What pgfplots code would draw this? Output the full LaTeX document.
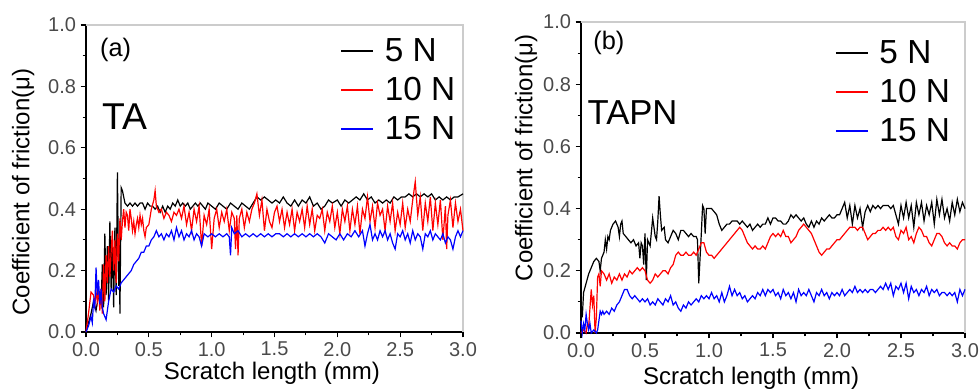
\documentclass[border=0pt]{standalone}
\usepackage{pgfplots}
\pgfplotsset{compat=1.18}
\usepackage{pgfplotstable}
\usepackage{fontspec}
\setmainfont{Liberation Sans}
\definecolor{tickgray}{HTML}{4A4A4A}
\definecolor{framegray}{HTML}{CCCCCC}

\pgfplotstableread{
x y
0.00 0.00
0.02 0.03
0.04 0.06
0.06 0.10
0.08 0.07
0.10 0.12
0.12 0.09
0.13 0.22
0.14 0.08
0.15 0.32
0.16 0.12
0.17 0.28
0.18 0.10
0.19 0.36
0.20 0.14
0.21 0.30
0.22 0.08
0.23 0.34
0.24 0.12
0.25 0.52
0.26 0.15
0.265 0.30
0.27 0.06
0.28 0.47
0.29 0.46
0.30 0.44
0.31 0.42
0.33 0.41
0.35 0.42
0.37 0.41
0.39 0.42
0.41 0.41
0.43 0.42
0.45 0.42
0.47 0.40
0.49 0.42
0.51 0.41
0.53 0.41
0.55 0.40
0.57 0.41
0.59 0.39
0.61 0.41
0.63 0.39
0.65 0.41
0.67 0.40
0.69 0.42
0.71 0.41
0.73 0.43
0.75 0.41
0.77 0.42
0.79 0.41
0.81 0.42
0.83 0.40
0.85 0.41
0.87 0.42
0.89 0.41
0.91 0.42
0.93 0.41
0.95 0.40
0.97 0.42
1.00 0.41
1.03 0.40
1.06 0.42
1.09 0.41
1.12 0.40
1.15 0.42
1.18 0.41
1.21 0.40
1.24 0.42
1.27 0.41
1.30 0.40
1.33 0.42
1.36 0.44
1.39 0.43
1.42 0.44
1.45 0.43
1.48 0.42
1.51 0.43
1.54 0.42
1.57 0.44
1.60 0.42
1.63 0.41
1.66 0.43
1.69 0.41
1.72 0.43
1.75 0.42
1.78 0.44
1.81 0.41
1.84 0.42
1.87 0.40
1.90 0.41
1.93 0.43
1.96 0.42
2.00 0.43
2.03 0.41
2.06 0.43
2.09 0.42
2.12 0.43
2.15 0.44
2.18 0.43
2.21 0.45
2.24 0.43
2.27 0.44
2.30 0.42
2.33 0.43
2.36 0.42
2.39 0.43
2.42 0.42
2.45 0.44
2.48 0.43
2.51 0.44
2.54 0.44
2.57 0.45
2.60 0.44
2.63 0.45
2.66 0.44
2.69 0.45
2.72 0.44
2.75 0.45
2.78 0.43
2.81 0.44
2.84 0.43
2.87 0.44
2.90 0.43
2.93 0.44
2.96 0.44
3.00 0.45
}\aFive

\pgfplotstableread{
x y
0.00 0.00
0.02 0.06
0.04 0.13
0.06 0.12
0.07 0.09
0.08 0.13
0.09 0.10
0.10 0.14
0.11 0.07
0.12 0.14
0.13 0.06
0.14 0.22
0.15 0.10
0.16 0.25
0.17 0.16
0.18 0.28
0.19 0.18
0.20 0.26
0.21 0.33
0.22 0.20
0.23 0.30
0.24 0.16
0.25 0.32
0.26 0.23
0.27 0.37
0.28 0.30
0.29 0.36
0.30 0.40
0.31 0.34
0.32 0.39
0.33 0.38
0.34 0.33
0.35 0.40
0.36 0.37
0.37 0.33
0.38 0.36
0.39 0.32
0.40 0.35
0.41 0.37
0.42 0.34
0.43 0.38
0.44 0.35
0.45 0.37
0.46 0.33
0.47 0.31
0.48 0.34
0.50 0.35
0.52 0.40
0.54 0.43
0.55 0.46
0.56 0.41
0.58 0.39
0.60 0.40
0.62 0.37
0.64 0.39
0.66 0.38
0.68 0.36
0.70 0.39
0.72 0.38
0.74 0.40
0.76 0.37
0.78 0.41
0.80 0.35
0.82 0.39
0.84 0.33
0.86 0.40
0.88 0.36
0.90 0.41
0.92 0.28
0.94 0.38
0.96 0.35
0.98 0.40
1.00 0.27
1.02 0.37
1.04 0.40
1.06 0.34
1.08 0.39
1.10 0.36
1.12 0.40
1.14 0.33
1.16 0.39
1.18 0.37
1.19 0.27
1.20 0.38
1.21 0.25
1.22 0.37
1.24 0.40
1.26 0.34
1.28 0.39
1.30 0.36
1.32 0.40
1.34 0.42
1.36 0.45
1.38 0.38
1.40 0.43
1.42 0.33
1.44 0.40
1.46 0.36
1.48 0.34
1.50 0.39
1.52 0.41
1.54 0.36
1.56 0.40
1.58 0.34
1.60 0.39
1.62 0.35
1.64 0.40
1.66 0.33
1.68 0.39
1.70 0.36
1.72 0.40
1.74 0.34
1.76 0.41
1.78 0.35
1.80 0.40
1.82 0.33
1.84 0.38
1.86 0.37
1.88 0.40
1.90 0.33
1.92 0.39
1.94 0.36
1.96 0.41
1.98 0.34
2.00 0.39
2.02 0.32
2.04 0.40
2.06 0.36
2.08 0.41
2.10 0.33
2.12 0.40
2.14 0.35
2.16 0.41
2.18 0.32
2.20 0.40
2.22 0.37
2.24 0.44
2.26 0.36
2.28 0.41
2.30 0.34
2.32 0.42
2.34 0.38
2.36 0.40
2.38 0.33
2.40 0.41
2.42 0.36
2.44 0.42
2.46 0.33
2.48 0.39
2.50 0.35
2.52 0.42
2.54 0.34
2.56 0.40
2.58 0.36
2.60 0.43
2.62 0.49
2.64 0.38
2.66 0.44
2.68 0.33
2.70 0.42
2.72 0.36
2.74 0.44
2.76 0.33
2.78 0.42
2.80 0.35
2.82 0.43
2.84 0.30
2.86 0.41
2.87 0.27
2.88 0.38
2.90 0.43
2.92 0.34
2.94 0.42
2.96 0.36
2.98 0.40
3.00 0.33
}\aTen

\pgfplotstableread{
x y
0.00 0.00
0.02 0.02
0.04 0.05
0.05 0.03
0.06 0.10
0.07 0.08
0.08 0.21
0.09 0.12
0.10 0.17
0.11 0.09
0.12 0.14
0.13 0.08
0.14 0.06
0.15 0.05
0.16 0.04
0.17 0.07
0.18 0.10
0.20 0.14
0.22 0.13
0.24 0.15
0.26 0.14
0.28 0.16
0.30 0.17
0.32 0.18
0.34 0.19
0.36 0.20
0.38 0.22
0.40 0.23
0.42 0.24
0.44 0.26
0.46 0.26
0.48 0.28
0.50 0.28
0.52 0.30
0.54 0.31
0.56 0.33
0.58 0.31
0.60 0.32
0.62 0.30
0.64 0.32
0.66 0.31
0.68 0.33
0.70 0.30
0.72 0.34
0.74 0.31
0.76 0.33
0.78 0.30
0.80 0.32
0.82 0.31
0.84 0.33
0.86 0.30
0.88 0.32
0.90 0.31
0.92 0.28
0.94 0.32
0.97 0.31
1.00 0.32
1.03 0.31
1.06 0.32
1.09 0.31
1.12 0.32
1.14 0.31
1.15 0.25
1.16 0.34
1.18 0.32
1.21 0.33
1.24 0.31
1.27 0.32
1.30 0.31
1.33 0.32
1.36 0.31
1.39 0.32
1.42 0.31
1.45 0.32
1.48 0.31
1.51 0.32
1.54 0.32
1.57 0.31
1.60 0.32
1.63 0.31
1.66 0.32
1.69 0.31
1.72 0.32
1.75 0.31
1.78 0.32
1.81 0.31
1.84 0.32
1.87 0.31
1.90 0.29
1.93 0.32
1.96 0.31
1.99 0.30
2.02 0.32
2.05 0.30
2.08 0.32
2.11 0.31
2.14 0.33
2.17 0.31
2.20 0.33
2.22 0.28
2.24 0.32
2.26 0.35
2.28 0.30
2.30 0.32
2.32 0.30
2.34 0.33
2.36 0.31
2.38 0.33
2.40 0.30
2.42 0.32
2.44 0.29
2.46 0.27
2.48 0.32
2.50 0.31
2.52 0.33
2.54 0.30
2.56 0.32
2.58 0.29
2.60 0.33
2.62 0.30
2.64 0.32
2.66 0.31
2.68 0.27
2.70 0.32
2.72 0.31
2.74 0.33
2.76 0.30
2.78 0.32
2.80 0.31
2.82 0.30
2.84 0.32
2.86 0.29
2.88 0.31
2.90 0.30
2.92 0.27
2.94 0.31
2.96 0.33
2.98 0.31
3.00 0.33
}\aFifteen

\pgfplotstableread{
x y
0.00 0.10
0.01 0.05
0.02 0.13
0.04 0.16
0.06 0.19
0.08 0.21
0.10 0.23
0.12 0.24
0.14 0.23
0.15 0.20
0.16 0.24
0.18 0.26
0.19 0.30
0.20 0.27
0.21 0.31
0.22 0.30
0.23 0.33
0.25 0.35
0.27 0.36
0.29 0.34
0.30 0.31
0.31 0.35
0.32 0.36
0.33 0.32
0.35 0.31
0.37 0.30
0.39 0.29
0.41 0.30
0.43 0.28
0.45 0.29
0.46 0.24
0.47 0.29
0.48 0.28
0.49 0.22
0.50 0.32
0.51 0.17
0.52 0.30
0.54 0.28
0.56 0.37
0.58 0.31
0.59 0.30
0.60 0.36
0.61 0.44
0.62 0.38
0.63 0.33
0.65 0.34
0.66 0.30
0.68 0.29
0.70 0.31
0.72 0.33
0.74 0.32
0.76 0.30
0.78 0.33
0.80 0.33
0.82 0.32
0.84 0.31
0.86 0.32
0.88 0.31
0.90 0.31
0.91 0.30
0.92 0.16
0.94 0.32
0.95 0.41
0.96 0.40
0.97 0.32
0.98 0.40
1.00 0.40
1.02 0.40
1.04 0.39
1.06 0.38
1.08 0.35
1.10 0.33
1.12 0.34
1.14 0.35
1.16 0.35
1.18 0.36
1.20 0.36
1.22 0.36
1.24 0.35
1.26 0.36
1.28 0.35
1.30 0.34
1.32 0.35
1.34 0.33
1.36 0.34
1.38 0.35
1.40 0.34
1.42 0.35
1.44 0.35
1.46 0.37
1.48 0.35
1.50 0.37
1.52 0.37
1.54 0.36
1.56 0.36
1.58 0.35
1.60 0.35
1.62 0.36
1.64 0.38
1.66 0.37
1.68 0.38
1.70 0.37
1.72 0.36
1.74 0.37
1.76 0.35
1.78 0.34
1.80 0.36
1.82 0.34
1.84 0.36
1.86 0.35
1.88 0.37
1.90 0.36
1.92 0.37
1.94 0.38
1.96 0.37
1.98 0.37
2.00 0.38
2.02 0.38
2.04 0.40
2.06 0.42
2.08 0.37
2.10 0.41
2.12 0.35
2.14 0.41
2.16 0.37
2.18 0.40
2.20 0.34
2.22 0.39
2.24 0.41
2.26 0.39
2.28 0.41
2.30 0.40
2.32 0.41
2.34 0.40
2.36 0.41
2.38 0.41
2.40 0.41
2.42 0.40
2.44 0.41
2.46 0.38
2.48 0.35
2.50 0.41
2.52 0.37
2.54 0.42
2.56 0.37
2.58 0.41
2.60 0.34
2.62 0.42
2.64 0.38
2.66 0.42
2.68 0.36
2.70 0.41
2.72 0.38
2.74 0.42
2.76 0.35
2.78 0.43
2.80 0.38
2.82 0.43
2.84 0.37
2.86 0.40
2.88 0.36
2.90 0.42
2.92 0.38
2.94 0.43
2.96 0.39
2.98 0.42
3.00 0.40
}\bFive

\pgfplotstableread{
x y
0.00 0.00
0.02 0.01
0.04 0.00
0.05 0.03
0.06 0.02
0.07 0.08
0.08 0.14
0.09 0.09
0.10 0.12
0.11 0.00
0.12 0.05
0.13 0.18
0.14 0.19
0.15 0.15
0.16 0.20
0.18 0.19
0.20 0.17
0.22 0.19
0.24 0.16
0.26 0.18
0.28 0.17
0.30 0.19
0.32 0.17
0.34 0.19
0.36 0.18
0.38 0.20
0.40 0.19
0.42 0.20
0.44 0.21
0.46 0.20
0.48 0.21
0.50 0.20
0.52 0.17
0.54 0.16
0.56 0.17
0.58 0.19
0.60 0.18
0.62 0.19
0.64 0.20
0.66 0.20
0.68 0.19
0.70 0.21
0.72 0.22
0.74 0.25
0.76 0.26
0.78 0.25
0.80 0.25
0.82 0.26
0.84 0.25
0.86 0.25
0.88 0.26
0.90 0.25
0.92 0.27
0.94 0.29
0.96 0.29
0.98 0.26
1.00 0.25
1.02 0.25
1.04 0.24
1.06 0.25
1.08 0.26
1.10 0.27
1.12 0.28
1.14 0.29
1.16 0.30
1.18 0.31
1.20 0.32
1.22 0.33
1.24 0.34
1.26 0.33
1.28 0.31
1.30 0.29
1.32 0.28
1.34 0.27
1.36 0.28
1.38 0.27
1.40 0.27
1.42 0.28
1.44 0.27
1.46 0.29
1.48 0.31
1.50 0.32
1.52 0.31
1.54 0.32
1.56 0.31
1.58 0.33
1.60 0.31
1.62 0.31
1.64 0.29
1.66 0.30
1.68 0.31
1.70 0.33
1.72 0.34
1.74 0.35
1.76 0.34
1.78 0.33
1.80 0.32
1.82 0.30
1.84 0.28
1.86 0.26
1.88 0.25
1.90 0.26
1.92 0.27
1.94 0.27
1.96 0.28
1.98 0.29
2.00 0.30
2.02 0.30
2.04 0.31
2.06 0.32
2.08 0.33
2.10 0.34
2.12 0.34
2.14 0.34
2.16 0.33
2.18 0.34
2.20 0.34
2.22 0.32
2.24 0.30
2.26 0.31
2.28 0.32
2.30 0.32
2.32 0.33
2.34 0.33
2.36 0.34
2.38 0.33
2.40 0.34
2.42 0.33
2.44 0.34
2.46 0.31
2.48 0.30
2.50 0.33
2.52 0.32
2.54 0.34
2.56 0.30
2.58 0.31
2.60 0.29
2.62 0.32
2.64 0.34
2.66 0.33
2.68 0.31
2.70 0.31
2.72 0.29
2.74 0.28
2.76 0.30
2.78 0.32
2.80 0.32
2.82 0.31
2.84 0.29
2.86 0.28
2.88 0.29
2.90 0.28
2.92 0.28
2.94 0.27
2.96 0.29
2.98 0.30
3.00 0.30
}\bTen

\pgfplotstableread{
x y
0.00 0.04
0.01 0.00
0.02 0.03
0.03 0.01
0.04 0.06
0.05 0.03
0.06 0.01
0.07 0.03
0.08 0.00
0.10 0.01
0.12 0.00
0.13 0.01
0.14 0.04
0.15 0.07
0.16 0.06
0.17 0.07
0.18 0.06
0.20 0.07
0.22 0.06
0.24 0.08
0.26 0.07
0.28 0.09
0.30 0.10
0.32 0.12
0.34 0.14
0.36 0.14
0.38 0.12
0.40 0.11
0.42 0.12
0.44 0.11
0.46 0.10
0.48 0.11
0.50 0.10
0.52 0.11
0.54 0.09
0.56 0.10
0.58 0.09
0.60 0.11
0.62 0.10
0.64 0.09
0.66 0.11
0.68 0.10
0.70 0.12
0.72 0.09
0.74 0.10
0.76 0.08
0.78 0.07
0.80 0.09
0.82 0.08
0.84 0.10
0.86 0.09
0.88 0.10
0.90 0.11
0.92 0.10
0.94 0.12
0.96 0.11
0.98 0.12
1.00 0.11
1.02 0.13
1.04 0.11
1.06 0.12
1.08 0.10
1.10 0.13
1.12 0.10
1.14 0.12
1.16 0.15
1.18 0.12
1.20 0.14
1.22 0.12
1.24 0.13
1.26 0.11
1.28 0.12
1.30 0.10
1.32 0.11
1.34 0.12
1.36 0.11
1.38 0.13
1.40 0.12
1.42 0.14
1.44 0.12
1.46 0.14
1.48 0.13
1.50 0.14
1.52 0.12
1.54 0.13
1.56 0.11
1.58 0.14
1.60 0.12
1.62 0.13
1.64 0.11
1.66 0.13
1.68 0.10
1.70 0.14
1.72 0.12
1.74 0.13
1.76 0.12
1.78 0.14
1.80 0.12
1.82 0.10
1.84 0.13
1.86 0.12
1.88 0.14
1.90 0.12
1.92 0.13
1.94 0.11
1.96 0.13
1.98 0.12
2.00 0.13
2.02 0.12
2.04 0.14
2.06 0.12
2.08 0.13
2.10 0.14
2.12 0.13
2.14 0.15
2.16 0.13
2.18 0.14
2.20 0.13
2.22 0.14
2.24 0.13
2.26 0.14
2.28 0.14
2.30 0.13
2.32 0.14
2.34 0.15
2.36 0.14
2.38 0.16
2.40 0.14
2.42 0.16
2.44 0.12
2.46 0.15
2.48 0.14
2.50 0.16
2.52 0.13
2.54 0.16
2.56 0.11
2.58 0.15
2.60 0.13
2.62 0.14
2.64 0.12
2.66 0.14
2.68 0.13
2.70 0.15
2.72 0.12
2.74 0.14
2.76 0.13
2.78 0.14
2.80 0.12
2.82 0.13
2.84 0.13
2.86 0.12
2.88 0.13
2.90 0.12
2.92 0.13
2.94 0.10
2.96 0.14
2.98 0.12
3.00 0.14
}\bFifteen

\pgfplotsset{
  cof/.style={
    scale only axis,
    xmin=0, xmax=3, ymin=0, ymax=1,
    axis lines=left,
    axis line style={-, black, line width=0.9pt},
    xtick={0,0.5,...,3}, ytick={0,0.2,...,1},
    minor x tick num=1, minor y tick num=1,
    tick align=outside,
    major tick length=4pt, minor tick length=2.5pt,
    tick style={black, line width=0.8pt},
    xticklabel style={/pgf/number format/.cd, fixed, fixed zerofill, precision=1, assume math mode=true},
    yticklabel style={/pgf/number format/.cd, fixed, fixed zerofill, precision=1, assume math mode=true},
    ticklabel style={font=\fontsize{15}{17}\selectfont, text=tickgray},
    label style={font=\fontsize{18}{21}\selectfont},
    clip=false,
    legend cell align=left,
    legend image code/.code={\draw[#1, line width=1.3pt] (0pt,0pt) -- (24pt,0pt);},
    every axis plot/.append style={line width=0.9pt},
  }
}

\begin{document}
\begin{tikzpicture}
\useasboundingbox (0,0) rectangle (734.25pt,294pt);
\begin{axis}[cof,
  at={(64.5pt,45pt)}, anchor=south west,
  width=282.75pt, height=230.25pt,
  xlabel={Scratch length (mm)}, ylabel={Coefficient of friction(μ)},
  xlabel style={at={(axis description cs:0.493,-0.134)}, anchor=center},
  ylabel style={at={(axis description cs:-0.167,0.456)}, anchor=center, rotate=0},
  legend style={draw=none, fill=none, at={(axis description cs:0.674,0.957)}, anchor=north west,
    font=\fontsize{25}{28}\selectfont, row sep=10.5pt, column sep=8pt, inner sep=0pt,
    nodes={inner sep=0pt}},
]
\draw[framegray, line width=0.8pt] (rel axis cs:0,1) -- (rel axis cs:1,1) -- (rel axis cs:1,0);
\addplot[black] table {\aFive};
\addplot[red] table {\aTen};
\addplot[blue] table {\aFifteen};
\legend{5 N, 10 N, 15 N}
\node[anchor=west, font=\fontsize{19}{22}\selectfont] at (rel axis cs:0.025,0.918) {(a)};
\node[anchor=west, font=\fontsize{28}{32}\selectfont] at (rel axis cs:0.03,0.70) {TA};
\end{axis}

\begin{axis}[cof,
  at={(435.75pt,44.25pt)}, anchor=south west,
  width=288pt, height=233.25pt,
  xlabel={Scratch length (mm)}, ylabel={Coefficient of friction(μ)},
  xlabel style={at={(axis description cs:0.443,-0.145)}, anchor=center},
  ylabel style={at={(axis description cs:-0.143,0.563)}, anchor=center, rotate=0},
  legend style={draw=none, fill=none, at={(axis description cs:0.661,0.941)}, anchor=north west,
    font=\fontsize{25}{28}\selectfont, row sep=10.5pt, column sep=8pt, inner sep=0pt,
    nodes={inner sep=0pt}},
]
\draw[framegray, line width=0.8pt] (rel axis cs:0,1) -- (rel axis cs:1,1) -- (rel axis cs:1,0);
\addplot[black] table {\bFive};
\addplot[red] table {\bTen};
\addplot[blue] table {\bFifteen};
\legend{5 N, 10 N, 15 N}
\node[anchor=west, font=\fontsize{19}{22}\selectfont] at (rel axis cs:0.02,0.932) {(b)};
\node[anchor=west, font=\fontsize{26}{30}\selectfont] at (rel axis cs:0.005,0.71) {TAPN};
\end{axis}
\end{tikzpicture}
\end{document}
